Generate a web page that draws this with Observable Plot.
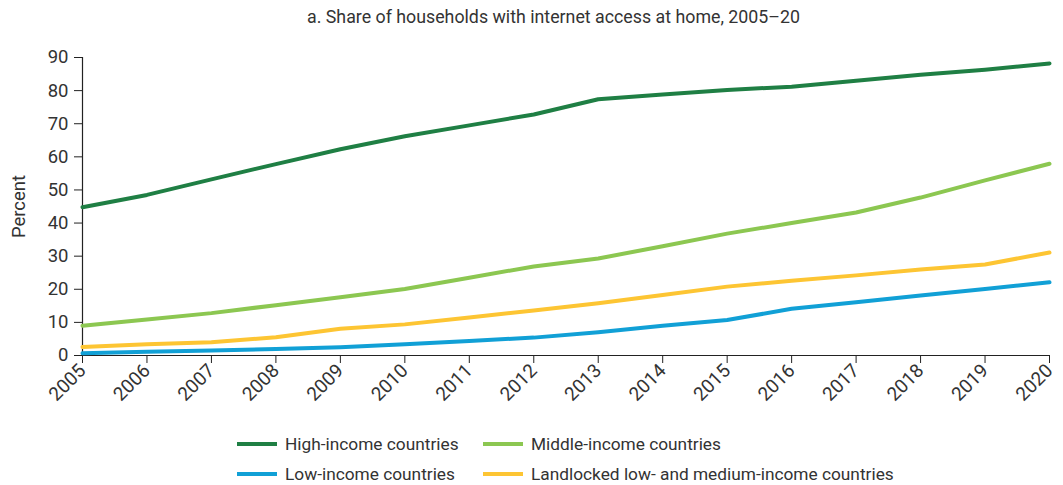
<!DOCTYPE html>
<html>
<head>
<meta charset="utf-8">
<script src="https://cdn.jsdelivr.net/npm/d3@7"></script>
<script src="https://cdn.jsdelivr.net/npm/@observablehq/plot@0.6"></script>
<style>
  html, body { margin: 0; padding: 0; background: #fff; }
  body { width: 1063px; height: 485px; overflow: hidden; font-family: "Roboto", sans-serif; color: #333; }
  #title { height: 36px; line-height: 34px; text-align: center; font-size: 17.8px; padding-left: 44px; box-sizing: border-box; }
  #legend { position: relative; width: 1063px; height: 70px; font-size: 17.3px; }
  .item { position: absolute; display: flex; align-items: center; height: 24px; white-space: nowrap; }
  .sw { width: 40px; height: 4px; margin-right: 8px; }
</style>
</head>
<body>
<div id="title">a. Share of households with internet access at home, 2005–20</div>
<div id="chart"></div>
<div id="legend"></div>
<script>
const years = [2005, 2006, 2007, 2008, 2009, 2010, 2011, 2012, 2013, 2014, 2015, 2016, 2017, 2018, 2019, 2020];
const highIncome = [44.8, 48.5, 53.2, 57.8, 62.3, 66.2, 69.5, 72.8, 77.4, 78.8, 80.2, 81.2, 83.0, 84.8, 86.3, 88.2];
const middleIncome = [9.0, 10.9, 12.8, 15.2, 17.6, 20.1, 23.5, 26.9, 29.3, 33.0, 36.8, 40.0, 43.2, 47.7, 52.9, 57.9];
const lowIncome = [0.7, 1.1, 1.5, 2.0, 2.5, 3.4, 4.4, 5.4, 7.0, 9.0, 10.7, 14.1, 16.1, 18.1, 20.1, 22.1];
const landlocked = [2.6, 3.4, 4.0, 5.5, 8.1, 9.4, 11.5, 13.6, 15.8, 18.3, 20.8, 22.6, 24.2, 26.0, 27.5, 31.1];
const seriesNames = ["High-income countries", "Middle-income countries", "Low-income countries", "Landlocked low- and medium-income countries"];
const seriesColors = ["#1f7f44", "#8cc751", "#11a0d6", "#fdc533"];
const yTicks = [0, 10, 20, 30, 40, 50, 60, 70, 80, 90];

const seriesValues = [highIncome, middleIncome, lowIncome, landlocked];
const data = [];
// draw order: high, middle, landlocked, low
[0, 1, 3, 2].forEach(i => {
  years.forEach((yr, j) => data.push({ year: yr, value: seriesValues[i][j], series: seriesNames[i] }));
});

const font = '"Roboto", sans-serif';
const chart = Plot.plot({
  width: 1063,
  height: 379,
  marginTop: 21,
  marginBottom: 60,
  marginLeft: 82,
  marginRight: 14,
  style: { fontFamily: font, fontSize: "18px", color: "#333", background: "#fff" },
  x: { domain: [2005, 2020], label: null },
  y: { domain: [0, 90], label: null },
  color: { domain: seriesNames, range: seriesColors },
  marks: [
    Plot.axisY({ ticks: yTicks, tickSize: 8, tickPadding: 6, label: "Percent", labelAnchor: "center", labelArrow: "none", labelOffset: 71, stroke: "#222", fontSize: 18.5 }),
    Plot.axisX({ ticks: years, tickFormat: d => String(d), tickSize: 8, tickPadding: 4, tickRotate: -45, label: null, stroke: "#222", fontSize: 19 }),
    Plot.ruleX([2005], { y1: 0, y2: 90, stroke: "#222", strokeWidth: 1.2 }),
    Plot.ruleY([0], { stroke: "#222", strokeWidth: 1.2 }),
    Plot.line(data, { x: "year", y: "value", z: "series", stroke: "series", strokeWidth: 4 })
  ]
});
document.getElementById("chart").appendChild(chart);

const legend = document.getElementById("legend");
const pos = [
  { left: 237, top: 17 },
  { left: 483, top: 17 },
  { left: 237, top: 47 },
  { left: 483, top: 47 }
];
seriesNames.forEach((name, i) => {
  const it = document.createElement("div");
  it.className = "item";
  it.style.left = pos[i].left + "px";
  it.style.top = pos[i].top + "px";
  const sw = document.createElement("div");
  sw.className = "sw";
  sw.style.background = seriesColors[i];
  const tx = document.createElement("span");
  tx.textContent = name;
  it.appendChild(sw);
  it.appendChild(tx);
  legend.appendChild(it);
});
</script>
</body>
</html>
